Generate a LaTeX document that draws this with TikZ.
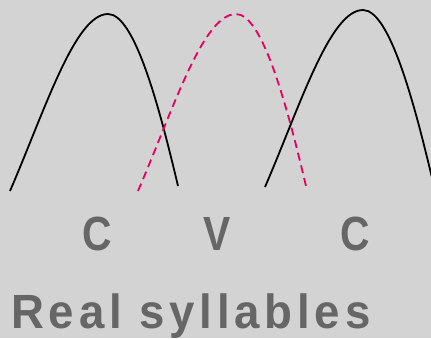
\documentclass[tikz,border=0pt]{standalone}
\usepackage{fontspec}
\setmainfont{Liberation Sans}
\newfontfamily\segfont{Liberation Sans}[FakeStretch=0.85]
\newfontfamily\titlefont{Liberation Sans}[FakeStretch=0.95, LetterSpace=10]
\usetikzlibrary{positioning}

\definecolor{bgray}{HTML}{D3D3D3}
\definecolor{tgray}{HTML}{666666}
\definecolor{vmagenta}{HTML}{E6005C}

\newcommand{\bumppath}{(10,191) .. controls (45,110) and (75,14) .. (108,14)
  .. controls (135,14) and (160,110) .. (178,186)}

\begin{document}
\begin{tikzpicture}[x=1pt, y=-1pt,
  bump/.style={line width=1.8pt},
  vowel/.style={bump, vmagenta, dash pattern=on 8pt off 5pt},
  seg/.style={inner sep=0, text=tgray, font=\segfont\bfseries\fontsize{48}{48}\selectfont}]

% background
\fill[bgray] (0,0) rectangle (431,338);
\useasboundingbox (0,0) rectangle (431,338);
\clip (0,0) rectangle (431,338);

% --- consonant / vowel / consonant ---
\draw[bump] \bumppath;
\draw[vowel, xshift=128pt] \bumppath;
\draw[bump, xshift=255pt, yshift=4pt] \bumppath;

% labels
\node[seg] (c1) at (97,234) {C};
\node[seg] (v) at (217,234) {V};
\node[seg] (c2) at (355,234) {C};

\node[inner sep=0, anchor=base west, text=tgray,
  font=\titlefont\bfseries\fontsize{48}{48}\selectfont] (title) at (11,328) {Real syllables};

\end{tikzpicture}
\end{document}
